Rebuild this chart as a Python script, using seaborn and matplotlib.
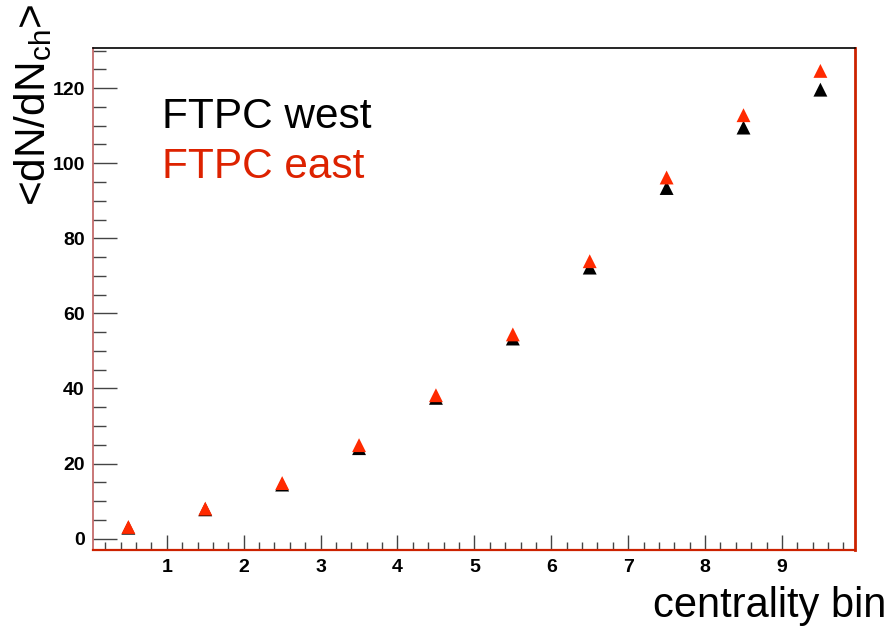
import matplotlib
matplotlib.use("Agg")
import matplotlib.pyplot as plt
from matplotlib.ticker import MultipleLocator
import seaborn as sns
import pandas as pd

# data
bins = [0.5, 1.5, 2.5, 3.5, 4.5, 5.5, 6.5, 7.5, 8.5, 9.5]
west = [2.9, 7.8, 14.4, 24.1, 37.5, 53.3, 72.2, 93.4, 109.5, 119.6]
east = [3.1, 8.0, 14.8, 24.9, 38.2, 54.4, 73.9, 96.2, 112.8, 124.6]
series_names = ["FTPC west", "FTPC east"]
x_ticks = [1, 2, 3, 4, 5, 6, 7, 8, 9]
y_ticks = [0, 20, 40, 60, 80, 100, 120]

sns.set_style("white")
plt.rcParams['font.family'] = ['Liberation Sans', 'DejaVu Sans']

df = pd.DataFrame({
    "bin": bins * 2,
    "val": west + east,
    "det": [series_names[0]] * len(bins) + [series_names[1]] * len(bins),
})

fig = plt.figure(figsize=(8.92, 6.29), dpi=100)
ax = fig.add_axes([93 / 892, 1 - 549.5 / 629, (855 - 93) / 892, (549.5 - 48) / 629])

sns.scatterplot(data=df, x="bin", y="val", hue="det", style="det",
                palette={series_names[0]: "black", series_names[1]: "#ff2a00"},
                markers={series_names[0]: "^", series_names[1]: "^"},
                s=100, linewidth=0, legend=False, ax=ax, zorder=3)

ax.set_xlim(0.04, 9.95)
ax.set_ylim(-2.9, 130.7)
ax.set_xticks(x_ticks)
ax.set_yticks(y_ticks)
ax.xaxis.set_minor_locator(MultipleLocator(0.2))
ax.yaxis.set_minor_locator(MultipleLocator(5))
ax.tick_params(axis="x", which="major", direction="in", length=11, width=1, color="#444444",
               labelsize=14, pad=7, labelcolor="black")
ax.tick_params(axis="x", which="minor", direction="in", length=5.5, width=1, color="#444444")
ax.tick_params(axis="y", which="major", direction="in", length=17, width=1, color="#444444",
               labelsize=14, pad=6, labelcolor="black")
ax.tick_params(axis="y", which="minor", direction="in", length=9, width=1, color="#444444")
ax.tick_params(bottom=True, left=True, which="both")
for lab in ax.get_xticklabels() + ax.get_yticklabels():
    lab.set_fontweight("bold")

for side in ["top", "left", "bottom", "right"]:
    ax.spines[side].set_visible(True)
    ax.spines[side].set_color("black")
    ax.spines[side].set_linewidth(1.2)
ax.spines["left"].set_color("#c06060")
ax.spines["right"].set_color("#cc2200")
ax.spines["right"].set_linewidth(2)
ax.spines["bottom"].set_color("#cc2200")
ax.spines["bottom"].set_linewidth(1.6)

ax.set_xlabel("")
ax.set_ylabel("")

fig.text(162 / 892, 1 - 128 / 629, series_names[0], fontsize=30.5, color="black",
         ha="left", va="baseline")
fig.text(162 / 892, 1 - 178 / 629, series_names[1], fontsize=30.5, color="#dd2200",
         ha="left", va="baseline")

fig.text(886 / 892, 1 - 617 / 629, "centrality bin", fontsize=30, color="black",
         ha="right", va="baseline")
fig.text(54 / 892, 1 - 4 / 629, r"<dN/dN$_{\mathregular{ch}}$>", fontsize=30.5, color="black",
         rotation=90, ha="right", va="top")

fig.savefig("out.png", dpi=100)
